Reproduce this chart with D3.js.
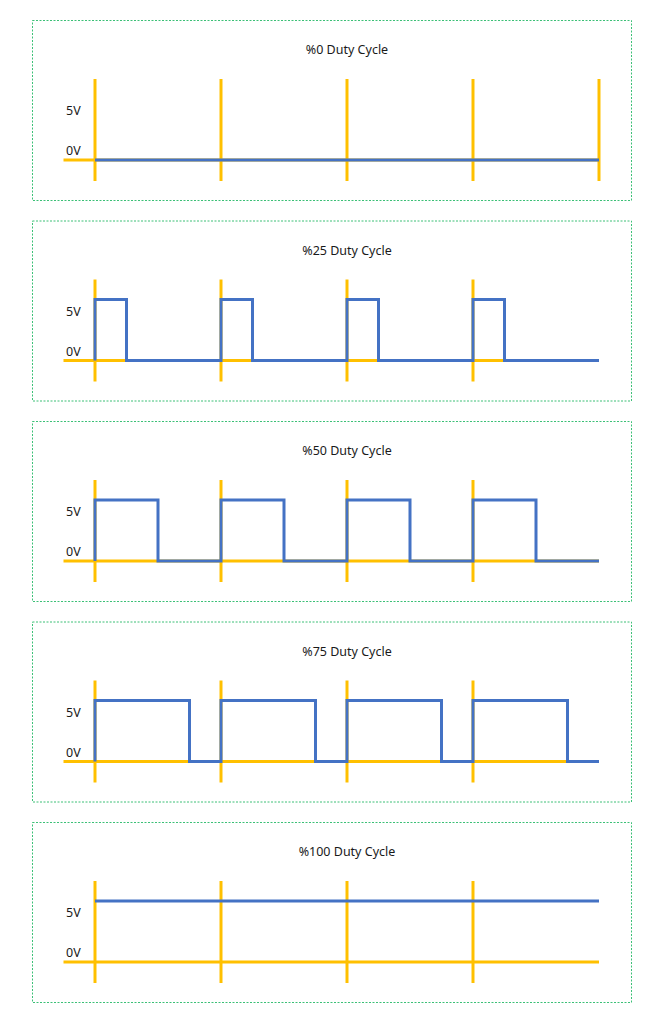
<!DOCTYPE html>
<html><head><meta charset="utf-8">
<script src="https://cdn.jsdelivr.net/npm/d3@7"></script>
<style>body{margin:0;background:#fff}</style>
</head><body>
<script>
// Data
const dutyCycles = [0, 25, 50, 75, 100];
const titles = ["%0 Duty Cycle", "%25 Duty Cycle", "%50 Duty Cycle", "%75 Duty Cycle", "%100 Duty Cycle"];
const periods = 4;
const voltageLevels = [0, 5];
const voltageLabels = ["0V", "5V"];

const W = 663, H = 1024;
const svg = d3.select("body").append("svg").attr("width", W).attr("height", H);

const panelTop = d3.scaleLinear().domain([0, 4]).range([20, 822]);
const x = d3.scaleLinear().domain([0, periods]).range([95, 599]);
const labelOffset = [-5, 16];

dutyCycles.forEach((d, i) => {
  const top = panelTop(i);
  const g = svg.append("g");
  const y = d3.scaleLinear().domain([0, 5]).range([top + 140, top + 79]);

  g.append("rect").attr("x", 32.5).attr("y", top + 0.5).attr("width", 599).attr("height", 180)
    .attr("fill", "none").attr("stroke", "#3cc077").attr("stroke-width", 1).attr("stroke-dasharray", "2,1.5");

  g.append("text").attr("x", x(2)).attr("y", top + 34).attr("text-anchor", "middle")
    .attr("font-family", "Noto Sans, sans-serif").attr("font-size", 12.5).attr("fill", "#1a1a1a").text(titles[i]);

  voltageLevels.forEach((v, j) => {
    g.append("text").attr("x", 66).attr("y", y(v) + labelOffset[j]).attr("font-family", "Noto Sans, sans-serif")
      .attr("font-size", 12.5).attr("fill", "#1a1a1a").text(voltageLabels[j]);
  });

  // yellow axis
  g.append("line").attr("x1", x(-0.25)).attr("x2", x(periods)).attr("y1", y(0)).attr("y2", y(0))
    .attr("stroke", "#FFC000").attr("stroke-width", 3);
  const ticks = d3.range(0, i === 0 ? periods + 1 : periods);
  g.selectAll(".vt").data(ticks).join("line")
    .attr("x1", t => x(t)).attr("x2", t => x(t)).attr("y1", top + 59).attr("y2", top + 161)
    .attr("stroke", "#FFC000").attr("stroke-width", 3);

  // blue waveform
  const duty = d / 100;
  let pts = [];
  if (duty === 0) pts = [[0, 0], [periods, 0]];
  else if (duty === 1) pts = [[0, 5], [periods, 5]];
  else {
    for (let k = 0; k < periods; k++) {
      pts.push([k, 0], [k, 5], [k + duty, 5], [k + duty, 0]);
    }
    pts.push([periods, 0]);
  }
  g.append("path").attr("d", d3.line().x(p => x(p[0])).y(p => y(p[1]))(pts))
    .attr("fill", "none").attr("stroke", "#4472C4").attr("stroke-width", 3);
});
</script>
</body></html>
